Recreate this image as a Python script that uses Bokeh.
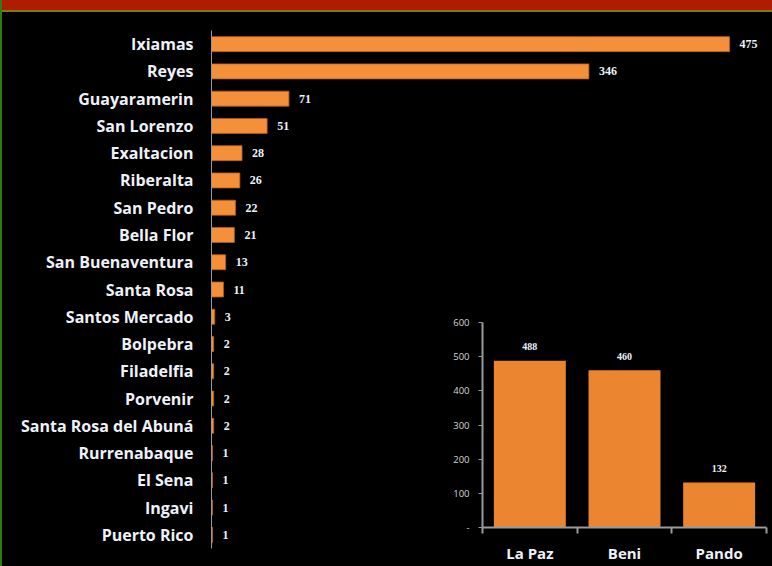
from bokeh.plotting import figure
from bokeh.models import Range1d, FactorRange, ColumnDataSource, LabelSet, FixedTicker
from bokeh.embed import file_html
from bokeh.resources import INLINE

# ---- data ----
places = ["Ixiamas", "Reyes", "Guayaramerin", "San Lorenzo", "Exaltacion", "Riberalta",
          "San Pedro", "Bella Flor", "San Buenaventura", "Santa Rosa", "Santos Mercado",
          "Bolpebra", "Filadelfia", "Porvenir", "Santa Rosa del Abuná", "Rurrenabaque",
          "El Sena", "Ingavi", "Puerto Rico"]
place_counts = [475, 346, 71, 51, 28, 26, 22, 21, 13, 11, 3, 2, 2, 2, 2, 1, 1, 1, 1]

departments = ["La Paz", "Beni", "Pando"]
dept_counts = [488, 460, 132]
dept_ticks = [0, 100, 200, 300, 400, 500, 600]

FONT = "Open Sans"
TXT = "#eef1f8"
ORANGE = "#f5903a"
AXIS = "#9a9a9a"

# ---- main horizontal bar chart ----
p = figure(width=756, height=550, output_backend="svg", toolbar_location=None,
           y_range=FactorRange(*reversed(places), range_padding=0),
           x_range=Range1d(0, 507),
           min_border_left=203, min_border_top=22, min_border_bottom=10, min_border_right=0)
p.background_fill_alpha = 0
p.border_fill_alpha = 0
p.outline_line_color = None
p.grid.visible = False
p.xaxis.visible = False

src = ColumnDataSource(dict(place=places, count=place_counts,
                            label=[str(v) for v in place_counts]))
p.hbar(y="place", right="count", left=0, height=0.55, source=src,
       fill_color=ORANGE, line_color="#b45a1c", line_width=0.8)

p.add_layout(LabelSet(x="count", y="place", text="label", source=src,
                      x_offset=10, text_baseline="middle", text_align="left",
                      text_font=FONT, text_font_size="12px", text_font_style="bold",
                      text_color=TXT))

ya = p.yaxis[0]
ya.axis_line_color = AXIS
ya.axis_line_width = 1
ya.major_tick_line_color = None
ya.minor_tick_line_color = None
ya.major_label_standoff = 12
ya.major_label_text_font = FONT
ya.major_label_text_font_size = "16px"
ya.major_label_text_font_style = "bold"
ya.major_label_text_color = TXT

# ---- inset vertical bar chart ----
q = figure(width=333, height=257, output_backend="svg", toolbar_location=None,
           x_range=Range1d(0, len(departments)), y_range=Range1d(0, 600),
           min_border_left=47, min_border_top=14, min_border_bottom=38, min_border_right=2)
q.styles = {"position": "absolute", "left": "435px", "top": "308px"}
q.background_fill_alpha = 0
q.border_fill_alpha = 0
q.outline_line_color = None
q.grid.visible = False

centers = [i + 0.5 for i in range(len(departments))]
qsrc = ColumnDataSource(dict(x=centers, count=dept_counts,
                             label=[str(v) for v in dept_counts]))
q.vbar(x="x", top="count", bottom=0, width=0.76, source=qsrc,
       fill_color="#ec8530", line_color=None)
q.add_layout(LabelSet(x="x", y="count", text="label", source=qsrc,
                      y_offset=14, text_align="center", text_baseline="middle",
                      text_font=FONT, text_font_size="10px", text_font_style="bold",
                      text_color=TXT))

qx = q.xaxis[0]
qx.ticker = FixedTicker(ticks=centers, minor_ticks=list(range(len(departments) + 1)))
qx.major_label_overrides = {c: d for c, d in zip(centers, departments)}
qx.axis_line_color = AXIS
qx.axis_line_width = 2
qx.major_tick_line_color = None
qx.minor_tick_line_color = AXIS
qx.minor_tick_line_width = 2
qx.minor_tick_out = 6
qx.minor_tick_in = 0
qx.major_label_standoff = 9
qx.major_label_text_font = FONT
qx.major_label_text_font_size = "15px"
qx.major_label_text_font_style = "bold"
qx.major_label_text_color = TXT

qy = q.yaxis[0]
qy.ticker = FixedTicker(ticks=dept_ticks)
qy.major_label_overrides = {0: "-"}
qy.axis_line_color = AXIS
qy.axis_line_width = 2
qy.major_tick_line_color = AXIS
qy.major_tick_out = 4
qy.major_tick_in = 0
qy.minor_tick_line_color = None
qy.major_label_standoff = 9
qy.major_label_text_font = FONT
qy.major_label_text_font_size = "9.5px"
qy.major_label_text_color = "#d6d6d6"

html = file_html([p, q], INLINE)
style = ("<style>html{background:#000;overflow:hidden;}"
         "body{padding:8px !important;overflow:hidden;"
         "background:linear-gradient(to right,#2e7d14 0,#2e7d14 2px,transparent 2px),"
         "linear-gradient(to bottom,#b01c00 0,#b01c00 10px,#7d7a18 10px,#7d7a18 12px,#000 12px);"
         "background-repeat:no-repeat;background-size:100% 100%;}</style>")
html = html.replace("</head>", style + "</head>", 1)
open("out.html", "w").write(html)
